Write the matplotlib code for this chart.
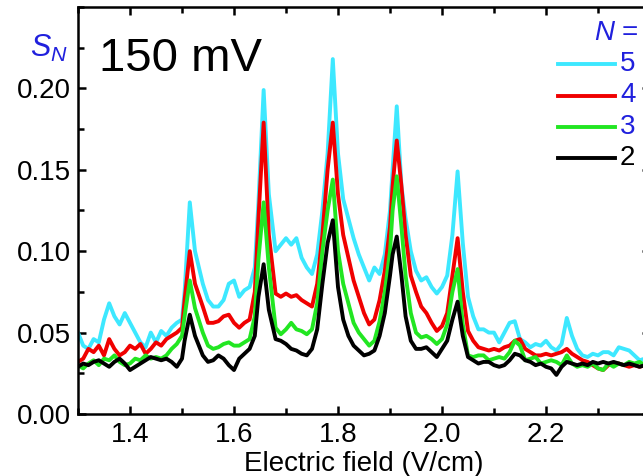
import matplotlib
matplotlib.use("Agg")
import matplotlib.pyplot as plt
from matplotlib.lines import Line2D
from matplotlib.ticker import MultipleLocator

plt.rcParams["font.family"] = ["Liberation Sans", "DejaVu Sans"]
plt.rcParams["mathtext.fontset"] = "custom"
plt.rcParams["mathtext.rm"] = "Liberation Sans"
plt.rcParams["mathtext.it"] = "Liberation Sans:italic"

# electric field (V/cm), shared by all curves
field = [1.30, 1.31, 1.32, 1.33, 1.34, 1.35, 1.36, 1.37, 1.38, 1.39, 1.40,
         1.41, 1.42, 1.43, 1.44, 1.45, 1.46, 1.47, 1.48, 1.49, 1.50,
         1.505, 1.515, 1.525,
         1.54, 1.55, 1.56, 1.57, 1.58, 1.59, 1.60, 1.61, 1.62, 1.63, 1.64,
         1.647, 1.657, 1.667,
         1.68, 1.69, 1.70, 1.71, 1.72, 1.73, 1.74, 1.75, 1.76, 1.77, 1.78,
         1.79, 1.80, 1.81, 1.82, 1.83, 1.84, 1.85, 1.86, 1.87, 1.88, 1.89, 1.90,
         1.905, 1.913, 1.922,
         1.93, 1.94, 1.95, 1.96, 1.97, 1.98, 1.99,
         2.00, 2.01, 2.02, 2.03, 2.04, 2.05, 2.06, 2.07, 2.08, 2.09,
         2.10, 2.11, 2.12, 2.13, 2.14, 2.15, 2.16, 2.17, 2.18, 2.19,
         2.20, 2.21, 2.22, 2.23, 2.24, 2.25, 2.26, 2.27, 2.28, 2.29,
         2.30, 2.31, 2.32, 2.33, 2.34, 2.35, 2.36, 2.37, 2.38, 2.39, 2.40]

s5 = [0.050, 0.042, 0.040, 0.046, 0.044, 0.058, 0.068, 0.060, 0.055, 0.062, 0.056,
      0.050, 0.044, 0.041, 0.050, 0.044, 0.051, 0.048, 0.053, 0.056, 0.058,
      0.075, 0.130, 0.100,
      0.080, 0.070, 0.066, 0.066, 0.070, 0.080, 0.082, 0.072, 0.076, 0.078, 0.090,
      0.130, 0.199, 0.135,
      0.100, 0.104, 0.108, 0.104, 0.108, 0.096, 0.090, 0.086, 0.098, 0.125, 0.160,
      0.218, 0.160, 0.132, 0.120, 0.108, 0.098, 0.090, 0.082, 0.090, 0.086, 0.098, 0.125,
      0.150, 0.189, 0.140,
      0.120, 0.100, 0.088, 0.082, 0.084, 0.078, 0.074,
      0.078, 0.085, 0.110, 0.149, 0.105, 0.072, 0.060, 0.052, 0.052, 0.050,
      0.050, 0.044, 0.050, 0.056, 0.057, 0.046, 0.044, 0.041, 0.043, 0.042,
      0.045, 0.041, 0.039, 0.043, 0.059, 0.048, 0.040, 0.036, 0.035, 0.037,
      0.036, 0.038, 0.038, 0.036, 0.041, 0.040, 0.039, 0.036, 0.033, 0.034, 0.033]

s4 = [0.032, 0.034, 0.040, 0.038, 0.042, 0.036, 0.046, 0.040, 0.036, 0.038, 0.042,
      0.040, 0.043, 0.037, 0.040, 0.044, 0.042, 0.046, 0.048, 0.050, 0.053,
      0.070, 0.100, 0.080,
      0.066, 0.056, 0.056, 0.057, 0.060, 0.061, 0.056, 0.053, 0.056, 0.058, 0.075,
      0.120, 0.179, 0.110,
      0.074, 0.072, 0.074, 0.072, 0.073, 0.070, 0.068, 0.066, 0.080, 0.110, 0.150,
      0.179, 0.135, 0.110, 0.096, 0.082, 0.072, 0.062, 0.055, 0.058, 0.070, 0.088, 0.115,
      0.140, 0.168, 0.140,
      0.110, 0.085, 0.075, 0.066, 0.062, 0.056, 0.051,
      0.054, 0.062, 0.085, 0.108, 0.075, 0.051, 0.045, 0.041, 0.040, 0.039,
      0.040, 0.039, 0.041, 0.042, 0.045, 0.046, 0.040, 0.038, 0.036, 0.036,
      0.037, 0.036, 0.037, 0.038, 0.040, 0.037, 0.035, 0.033, 0.032, 0.030,
      0.028, 0.027, 0.030, 0.031, 0.031, 0.030, 0.029, 0.030, 0.029, 0.030, 0.030]

s3 = [0.030, 0.028, 0.031, 0.033, 0.030, 0.034, 0.033, 0.036, 0.032, 0.030, 0.031,
      0.034, 0.033, 0.036, 0.034, 0.035, 0.034, 0.036, 0.040, 0.043, 0.048,
      0.060, 0.082, 0.065,
      0.050, 0.042, 0.040, 0.041, 0.043, 0.044, 0.042, 0.042, 0.044, 0.046, 0.060,
      0.095, 0.130, 0.090,
      0.053, 0.049, 0.052, 0.056, 0.052, 0.051, 0.049, 0.052, 0.068, 0.100, 0.125,
      0.144, 0.100, 0.080, 0.068, 0.056, 0.050, 0.046, 0.042, 0.045, 0.057, 0.075, 0.100,
      0.125, 0.146, 0.115,
      0.085, 0.062, 0.050, 0.047, 0.048, 0.046, 0.043,
      0.046, 0.055, 0.075, 0.089, 0.055, 0.036, 0.035, 0.036, 0.036, 0.033,
      0.034, 0.035, 0.034, 0.038, 0.045, 0.042, 0.033, 0.034, 0.035, 0.031,
      0.032, 0.033, 0.032, 0.030, 0.036, 0.031, 0.029, 0.030, 0.029, 0.031,
      0.028, 0.027, 0.031, 0.029, 0.031, 0.030, 0.032, 0.031, 0.032, 0.030, 0.031]

s2 = [0.029, 0.031, 0.030, 0.032, 0.033, 0.031, 0.029, 0.032, 0.034, 0.031, 0.027,
      0.029, 0.031, 0.033, 0.035, 0.034, 0.033, 0.034, 0.032, 0.029, 0.034,
      0.045, 0.061, 0.048,
      0.036, 0.032, 0.033, 0.036, 0.034, 0.030, 0.027, 0.034, 0.037, 0.040, 0.048,
      0.072, 0.092, 0.064,
      0.046, 0.045, 0.043, 0.040, 0.039, 0.037, 0.036, 0.040, 0.052, 0.080, 0.105,
      0.119, 0.078, 0.058, 0.048, 0.042, 0.039, 0.036, 0.037, 0.039, 0.048, 0.062, 0.085,
      0.098, 0.109, 0.085,
      0.060, 0.045, 0.040, 0.040, 0.041, 0.038, 0.035,
      0.040, 0.045, 0.058, 0.069, 0.048, 0.035, 0.033, 0.031, 0.032, 0.032,
      0.030, 0.029, 0.030, 0.033, 0.037, 0.036, 0.033, 0.032, 0.030, 0.031,
      0.029, 0.028, 0.024, 0.029, 0.032, 0.031, 0.030, 0.031, 0.030, 0.032,
      0.031, 0.032, 0.031, 0.032, 0.031, 0.030, 0.031, 0.030, 0.029, 0.030, 0.030]

series = [("5", s5, "#3de8ff", "#2020dd"),
          ("4", s4, "#f00000", "#2020dd"),
          ("3", s3, "#22e622", "#2020dd"),
          ("2", s2, "black", "black")]

fig = plt.figure(figsize=(6.43, 4.76), dpi=100)
# axes runs a little past the right edge of the picture, like the cropped original
ax = fig.add_axes([78 / 643, 62 / 476, 572 / 643, 407 / 476])

for lab, vals, col, tcol in series:
    ax.plot(field, vals, color=col, lw=2.8)

ax.set_xlim(1.3, 2.4)
ax.set_ylim(0, 0.25)
ax.xaxis.set_major_locator(MultipleLocator(0.2))
ax.xaxis.set_minor_locator(MultipleLocator(0.1))
ax.yaxis.set_major_locator(MultipleLocator(0.05))
ax.yaxis.set_minor_locator(MultipleLocator(0.025))
ax.set_xticks([1.4, 1.6, 1.8, 2.0, 2.2])
ax.set_xticklabels(["1.4", "1.6", "1.8", "2.0", "2.2"])
ax.set_yticks([0.0, 0.05, 0.10, 0.15, 0.20])
ax.set_yticklabels(["0.00", "0.05", "0.10", "0.15", "0.20"])
ax.tick_params(which="both", direction="in", top=True, right=True, width=1.8)
ax.tick_params(which="major", length=6, labelsize=20)
ax.tick_params(axis="x", which="major", pad=6)
ax.tick_params(axis="y", which="major", pad=5)
ax.tick_params(which="minor", length=4)
for sp in ax.spines.values():
    sp.set_linewidth(1.8)

ax.set_xlabel("Electric field (V/cm)", fontsize=20)
ax.xaxis.set_label_coords(0.5, -0.09)

fig.text(30 / 643, 1 - 57 / 476, r"$S_N$", color="#2020dd", fontsize=22)
fig.text(99 / 643, 1 - 71 / 476, "150 mV", fontsize=34)

# legend drawn by hand, the right part is cut off in the original
fig.text(594 / 643, 1 - 33 / 476, r"$N$ =", color="#2020dd", fontsize=20, va="center")
for i, (lab, vals, col, tcol) in enumerate(series):
    yf = 1 - (64 + 31.5 * i) / 476
    fig.add_artist(Line2D([558 / 643, 615 / 643], [yf, yf], color=col, lw=2.8))
    fig.text(620 / 643, yf, lab, color=tcol, fontsize=20, va="center")

fig.savefig("out.png", dpi=100)
